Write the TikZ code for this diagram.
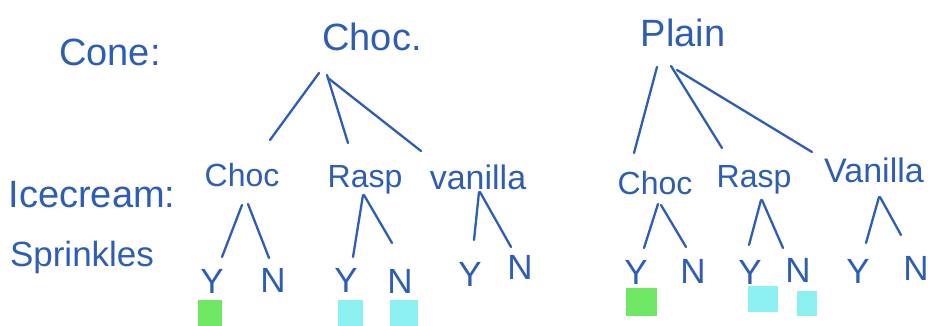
\documentclass[tikz,border=0pt]{standalone}
\usepackage{fontspec}
\setmainfont{Liberation Sans}
\usetikzlibrary{calc}
\definecolor{pen}{RGB}{46,94,180}
\definecolor{mark1}{RGB}{110,232,100}
\definecolor{mark2}{RGB}{140,240,240}
\tikzset{
  lbl/.style={text=pen, inner sep=0pt, anchor=center},
  big/.style={lbl, font=\fontsize{38}{38}\selectfont},
  mid/.style={lbl, font=\fontsize{32}{32}\selectfont},
  yn/.style={lbl, font=\fontsize{35}{35}\selectfont},
  branch/.style={draw=pen, line width=2.3pt, line cap=round},
  swatch/.style={inner sep=0pt, draw=none, anchor=north west},
}
\begin{document}
\begin{tikzpicture}[x=1pt,y=-1pt]
\useasboundingbox[fill=white] (0,0) rectangle (928,326);

% row labels
\node[big] (cone) at (110,52) {Cone:};
\node[big] (ice) at (92,195) {Icecream:};
\node[lbl, font=\fontsize{35}{35}\selectfont] (spr) at (82,257) {Sprinkles};

% roots
\node[big] (rc) at (372,37) {Choc.};
\node[big] (rp) at (683,33) {Plain};

% second level
\node[mid] (lc) at (242,175) {Choc};
\node[mid] (lr) at (365,180) {Rasp};
\node[lbl, font=\fontsize{34}{34}\selectfont] (lv) at (478,177) {vanilla};
\node[mid] (pc) at (655,183) {Choc};
\node[mid] (pr) at (754,180) {Rasp};
\node[lbl, font=\fontsize{34}{34}\selectfont] (pv) at (874,170) {Vanilla};

% third level
\node[yn] (lcy) at (212,281) {Y};
\node[yn] (lcn) at (273,280) {N};
\node[yn] (lry) at (346,280) {Y};
\node[yn] (lrn) at (400,281) {N};
\node[yn] (lvy) at (470,274) {Y};
\node[yn] (lvn) at (520,267) {N};
\node[yn] (pcy) at (636,272) {Y};
\node[yn] (pcn) at (693,271) {N};
\node[yn] (pry) at (750,272) {Y};
\node[yn] (prn) at (798,270) {N};
\node[yn] (pvy) at (858,271) {Y};
\node[yn] (pvn) at (916,268) {N};

% branches from Choc. root
\draw[branch] ($(rc)+(-53,36)$) -- ($(lc)+(28,-35)$);
\draw[branch] ($(rc)+(-45,38)$) -- ($(lr)+(-17,-37)$);
\draw[branch] ($(rc)+(-44,41)$) -- ($(lv)+(-57,-26)$);
% branches from Plain root
\draw[branch] ($(rp)+(-26,34)$) -- ($(pc)+(-21,-30)$);
\draw[branch] ($(rp)+(-12,33)$) -- ($(pr)+(-32,-32)$);
\draw[branch] ($(rp)+(-6,37)$) -- ($(pv)+(-62,-18)$);

% sprinkles branches, left tree
\draw[branch] ($(lc)+(0,30)$) -- ($(lcy)+(10,-24)$);
\draw[branch] ($(lc)+(6,29)$) -- ($(lcn)+(-4,-22)$);
\draw[branch] ($(lr)+(-2,15)$) -- ($(lry)+(7,-23)$);
\draw[branch] ($(lr)+(-1,15)$) -- ($(lrn)+(-8,-38)$);
\draw[branch] ($(lv)+(1,15)$) -- ($(lvy)+(4,-34)$);
\draw[branch] ($(lv)+(2,15)$) -- ($(lvn)+(-9,-20)$);
% sprinkles branches, right tree
\draw[branch] ($(pc)+(3,21)$) -- ($(pcy)+(8,-24)$);
\draw[branch] ($(pc)+(6,22)$) -- ($(pcn)+(-7,-24)$);
\draw[branch] ($(pr)+(7,20)$) -- ($(pry)+(-1,-27)$);
\draw[branch] ($(pr)+(8,20)$) -- ($(prn)+(-15,-22)$);
\draw[branch] ($(pv)+(5,27)$) -- ($(pvy)+(8,-28)$);
\draw[branch] ($(pv)+(6,27)$) -- ($(pvn)+(-15,-33)$);

% coloured marks
\node[swatch, fill=mark1, minimum width=24pt, minimum height=26pt] (m1) at (198,300) {};
\node[swatch, fill=mark2, minimum width=25pt, minimum height=26pt] (m2) at (338,300) {};
\node[swatch, fill=mark2, minimum width=28pt, minimum height=26pt] (m3) at (390,300) {};
\node[swatch, fill=mark1, minimum width=31pt, minimum height=28pt] (m4) at (626,288) {};
\node[swatch, fill=mark2, minimum width=30pt, minimum height=26pt] (m5) at (748,286) {};
\node[swatch, fill=mark2, minimum width=20pt, minimum height=25pt] (m6) at (797,291) {};
\end{tikzpicture}
\end{document}
